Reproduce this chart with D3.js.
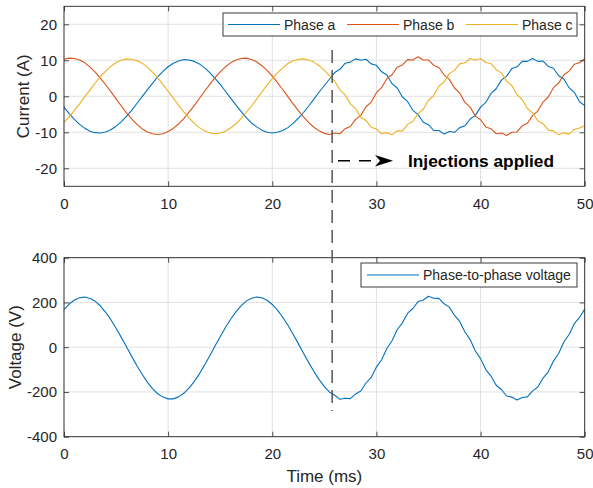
<!DOCTYPE html>
<html>
<head>
<meta charset="utf-8">
<script src="https://cdn.jsdelivr.net/npm/d3@7"></script>
<style>
  body { margin: 0; background: #fff; }
  svg text { font-family: "Liberation Sans", Arial, Helvetica, sans-serif; fill: #262626; }
</style>
</head>
<body>
<div id="chart"></div>
<script>
// time axis, one sample every 0.5 ms
const timeMs = d3.range(0, 101).map((i) => i * 0.5);

// phase currents (A)
const phaseA = [
  -3.0, -4.8, -6.4, -7.8, -8.9, -9.7, -10.1, -10.2, -9.9, -9.3, -8.3, -7.1, -5.6, -3.9, -2.0, -0.1, 1.8, 3.6, 5.4, 6.9,
  8.2, 9.2, 9.8, 10.2, 10.1, 9.7, 9.0, 7.9, 6.6, 5.0, 3.3, 1.4, -0.5, -2.4, -4.2, -5.9, -7.4, -8.5, -9.4, -10.0,
  -10.2, -10.0, -9.5, -8.7, -7.5, -6.1, -4.5, -2.7, -0.8, 1.2, 3.0, 4.8, 6.6, 7.5, 9.2, 9.5, 10.4, 10.0, 10.3, 9.0,
  8.6, 6.8, 5.9, 3.5, 2.3, -0.2, -1.5, -3.9, -5.1, -7.2, -7.9, -9.5, -9.5, -10.5, -9.8, -10.0, -8.7, -8.2, -6.3, -5.3,
  -3.0, -1.7, 0.8, 2.1, 4.5, 5.6, 7.7, 8.2, 9.7, 9.7, 10.5, 9.7, 9.8, 8.3, 7.8, 5.7, 4.8, 2.4, 1.1, -1.5, -2.6,
];
const phaseB = [
  10.3, 10.6, 10.5, 10.1, 9.3, 8.1, 6.7, 5.0, 3.2, 1.3, -0.7, -2.7, -4.6, -6.3, -7.8, -9.0, -9.9, -10.4, -10.6, -10.4,
  -9.8, -8.9, -7.7, -6.2, -4.4, -2.6, -0.6, 1.4, 3.3, 5.2, 6.8, 8.2, 9.3, 10.1, 10.5, 10.6, 10.2, 9.6, 8.5, 7.2,
  5.6, 3.8, 1.9, -0.1, -2.1, -4.0, -5.7, -7.3, -8.6, -9.6, -10.3, -10.6, -10.2, -10.4, -9.0, -8.4, -6.4, -5.3, -2.9, -1.6,
  1.0, 2.4, 4.9, 6.0, 8.1, 8.7, 10.2, 10.1, 11.0, 10.1, 10.1, 8.6, 8.0, 5.9, 4.7, 2.3, 0.9, -1.7, -3.0, -5.5,
  -6.5, -8.5, -9.0, -10.4, -10.2, -10.9, -10.0, -9.9, -8.2, -7.5, -5.3, -4.1, -1.6, -0.2, 2.4, 3.7, 6.0, 7.0, 8.9, 9.3, 10.5,
];
const phaseC = [
  -7.2, -5.7, -3.9, -2.1, -0.1, 1.8, 3.7, 5.5, 7.0, 8.3, 9.4, 10.0, 10.4, 10.3, 9.9, 9.2, 8.1, 6.7, 5.1, 3.3,
  1.4, -0.5, -2.5, -4.3, -6.0, -7.5, -8.7, -9.6, -10.2, -10.4, -10.2, -9.7, -8.8, -7.7, -6.2, -4.5, -2.7, -0.8, 1.2, 3.1,
  4.9, 6.5, 7.9, 9.1, 9.9, 10.3, 10.4, 10.1, 9.5, 8.5, 7.2, 5.7, 4.2, 1.8, 0.4, -2.1, -3.4, -5.8, -6.7, -8.6,
  -9.1, -10.4, -10.1, -10.7, -9.6, -9.6, -7.8, -7.0, -4.8, -3.6, -1.1, 0.2, 2.8, 4.0, 6.3, 7.2, 9.0, 9.3, 10.5, 10.1,
  10.5, 9.4, 9.1, 7.4, 6.5, 4.2, 3.0, 0.5, -0.9, -3.4, -4.6, -6.8, -7.6, -9.4, -9.6, -10.7, -10.1, -10.5, -9.2, -8.8, -8.2,
];

// phase-to-phase voltage (V)
const voltage = [
  168, 193, 211, 221, 224, 218, 205, 184, 156, 123, 85, 44, 2, -41, -83, -121, -156, -185, -208, -223,
  -231, -231, -222, -206, -183, -154, -119, -80, -38, 5, 47, 88, 125, 158, 185, 206, 219, 224, 221, 210,
  191, 166, 134, 98, 58, 16, -27, -69, -109, -145, -176, -201, -215, -233, -228, -230, -209, -196, -160, -135,
  -89, -56, -6, 29, 79, 109, 152, 173, 204, 211, 228, 219, 218, 194, 179, 142, 115, 68, 34, -17,
  -51, -100, -129, -170, -189, -218, -223, -236, -225, -222, -195, -178, -138, -110, -62, -28, 23, 57, 105, 133, 170,
];

const currentSeries = [
  { name: "Phase a", values: phaseA, color: "#0072BD" },
  { name: "Phase b", values: phaseB, color: "#D95319" },
  { name: "Phase c", values: phaseC, color: "#EDB120" },
];
const voltageSeries = [{ name: "Phase-to-phase voltage", values: voltage, color: "#0072BD" }];

const xTicks = [0, 10, 20, 30, 40, 50];
const currentTicks = [-20, -10, 0, 10, 20];
const voltageTicks = [-400, -200, 0, 200, 400];
const injectionTime = 25.75;

const W = 593;
const H = 488;
const left = 64;
const right = 584.7;

const svg = d3
  .select("#chart")
  .append("svg")
  .attr("width", W)
  .attr("height", H);

const x = d3.scaleLinear().domain([0, 50]).range([left, right]);

// draws one MATLAB-like axes box with grid, inward ticks and a line plot
function drawPanel(cfg) {
  const y = d3.scaleLinear().domain(cfg.yDomain).range([cfg.bottom, cfg.top]);
  const g = svg.append("g");

  // grid
  g.selectAll("line.gx")
    .data(xTicks)
    .join("line")
    .attr("x1", (d) => x(d))
    .attr("x2", (d) => x(d))
    .attr("y1", cfg.top)
    .attr("y2", cfg.bottom)
    .attr("stroke", "#e1e1e1")
    .attr("stroke-width", 1);
  g.selectAll("line.gy")
    .data(cfg.yTicks)
    .join("line")
    .attr("x1", left)
    .attr("x2", right)
    .attr("y1", (d) => y(d))
    .attr("y2", (d) => y(d))
    .attr("stroke", "#e1e1e1")
    .attr("stroke-width", 1);

  // data lines
  const line = d3
    .line()
    .x((d, i) => x(timeMs[i]))
    .y((d) => y(d));
  cfg.series.forEach((s) => {
    g.append("path")
      .datum(s.values)
      .attr("fill", "none")
      .attr("stroke", s.color)
      .attr("stroke-width", 1.1)
      .attr("stroke-linejoin", "round")
      .attr("d", line);
  });

  // axes (ticks pointing inward)
  const fmt = (d) => String(d);
  const axB = g
    .append("g")
    .attr("transform", `translate(0,${cfg.bottom})`)
    .call(d3.axisBottom(x).tickValues(xTicks).tickSize(-5).tickPadding(12).tickFormat(fmt));
  const axL = g
    .append("g")
    .attr("transform", `translate(${left},0)`)
    .call(d3.axisLeft(y).tickValues(cfg.yTicks).tickSize(-5).tickPadding(7).tickFormat(fmt));
  const axT = g
    .append("g")
    .attr("transform", `translate(0,${cfg.top})`)
    .call(d3.axisTop(x).tickValues(xTicks).tickSize(-5).tickFormat(""));
  const axR = g
    .append("g")
    .attr("transform", `translate(${right},0)`)
    .call(d3.axisRight(y).tickValues(cfg.yTicks).tickSize(-5).tickFormat(""));
  [axB, axL, axT, axR].forEach((a) => {
    a.select(".domain").remove();
    a.selectAll(".tick line").attr("stroke", "#262626").attr("stroke-width", 0.8);
    a.selectAll(".tick text").attr("font-size", 15).attr("fill", "#262626");
    a.attr("font-family", null);
  });

  g.append("rect")
    .attr("x", left)
    .attr("y", cfg.top)
    .attr("width", right - left)
    .attr("height", cfg.bottom - cfg.top)
    .attr("fill", "none")
    .attr("stroke", "#262626")
    .attr("stroke-width", 0.9);

  // y label
  g.append("text")
    .attr("transform", `translate(${cfg.labelX},${(cfg.top + cfg.bottom) / 2}) rotate(-90)`)
    .attr("text-anchor", "middle")
    .attr("font-size", 17)
    .text(cfg.yLabel);

  return { g, y };
}

// legend box with line samples
function drawLegend(items, box) {
  const lg = svg.append("g");
  lg.append("rect")
    .attr("x", box.x)
    .attr("y", box.y)
    .attr("width", box.w)
    .attr("height", box.h)
    .attr("fill", "#fff")
    .attr("stroke", "#262626")
    .attr("stroke-width", 0.9);
  const cy = box.y + box.h / 2;
  items.forEach((s, i) => {
    const x0 = box.entries[i];
    lg.append("line")
      .attr("x1", x0)
      .attr("x2", x0 + 52)
      .attr("y1", cy)
      .attr("y2", cy)
      .attr("stroke", s.color)
      .attr("stroke-width", 1.2);
    lg.append("text")
      .attr("x", x0 + 56)
      .attr("y", cy + 5)
      .attr("font-size", 14)
      .text(s.name);
  });
}

const topPanel = drawPanel({
  top: 6.3,
  bottom: 186.3,
  yDomain: [-25, 25],
  yTicks: currentTicks,
  series: currentSeries,
  yLabel: "Current (A)",
  labelX: 29,
});

const bottomPanel = drawPanel({
  top: 257.7,
  bottom: 436.7,
  yDomain: [-400, 400],
  yTicks: voltageTicks,
  series: voltageSeries,
  yLabel: "Voltage (V)",
  labelX: 21,
});

// x label
svg
  .append("text")
  .attr("x", (left + right) / 2)
  .attr("y", 482)
  .attr("text-anchor", "middle")
  .attr("font-size", 17)
  .text("Time (ms)");

// injection marker spanning both panels
svg
  .append("line")
  .attr("x1", x(injectionTime))
  .attr("x2", x(injectionTime))
  .attr("y1", 50)
  .attr("y2", 411)
  .attr("stroke", "#555")
  .attr("stroke-width", 1.5)
  .attr("stroke-dasharray", "13,7");

// annotation arrow
const arrowY = topPanel.y(-17.9);
svg
  .append("line")
  .attr("x1", 338)
  .attr("x2", 378)
  .attr("y1", arrowY)
  .attr("y2", arrowY)
  .attr("stroke", "#000")
  .attr("stroke-width", 1.3)
  .attr("stroke-dasharray", "12,9");
svg
  .append("path")
  .attr(
    "d",
    `M393,${arrowY} L375,${arrowY - 5.8} L380,${arrowY} L375,${arrowY + 5.8} Z`
  )
  .attr("fill", "#000");
svg
  .append("text")
  .attr("x", 408)
  .attr("y", arrowY + 6)
  .attr("font-size", 17.3)
  .attr("font-weight", "bold")
  .style("fill", "#000")
  .text("Injections applied");

drawLegend(currentSeries, { x: 223, y: 13, w: 354, h: 23, entries: [228, 347, 466] });
drawLegend(voltageSeries, { x: 361, y: 263, w: 216, h: 24, entries: [367] });
</script>
</body>
</html>
